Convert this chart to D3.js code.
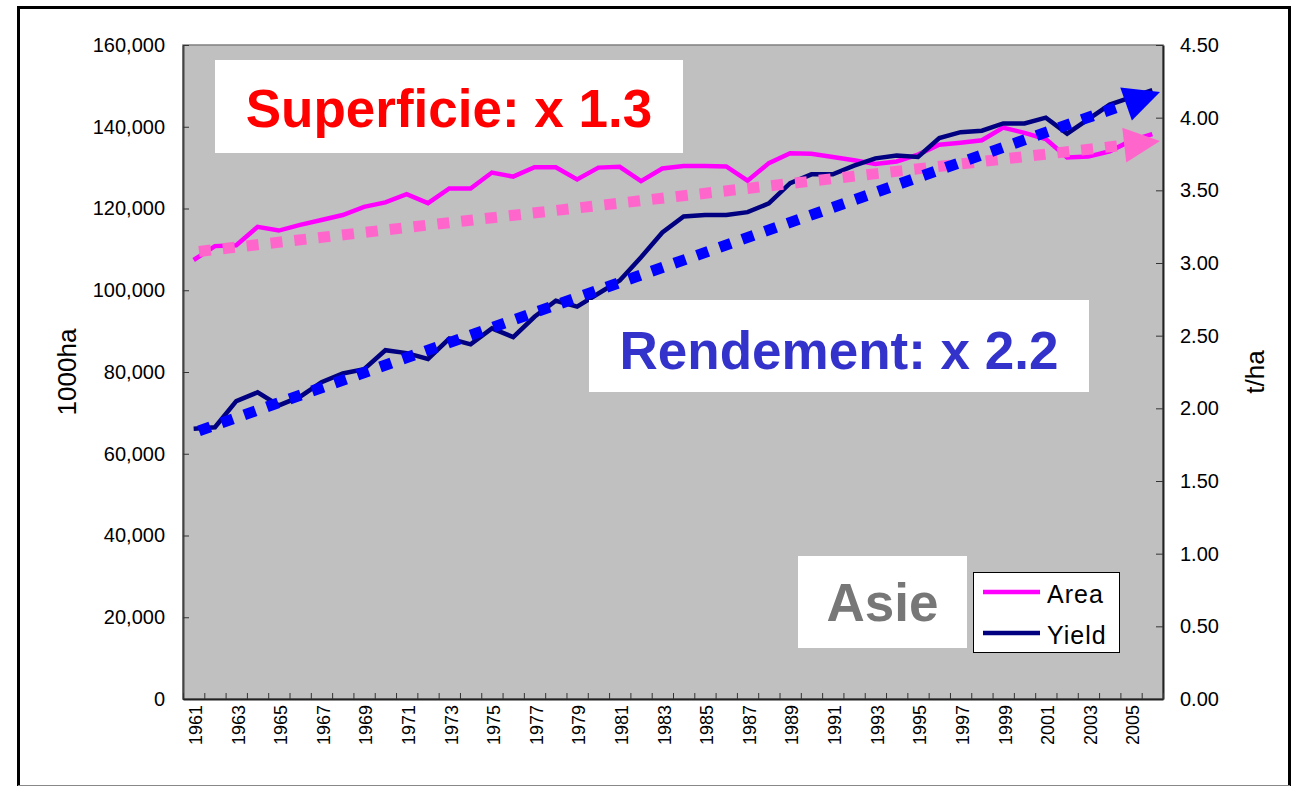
<!DOCTYPE html>
<html>
<head>
<meta charset="utf-8">
<script src="https://cdn.jsdelivr.net/npm/d3@7"></script>
<style>
    html, body { margin: 0; padding: 0; background: #fff; }
    svg { display: block; font-family: "Liberation Sans", Arial, sans-serif; }
</style>
</head>
<body>
<div id="chart"></div>
<script>
// Rice in Asia, 1961-2006: harvested area (1000 ha, left axis) and
// yield (t/ha, right axis), with hand-drawn dotted trend arrows.

const YEARS = [
    1961, 1962, 1963, 1964, 1965, 1966, 1967, 1968, 1969, 1970,
    1971, 1972, 1973, 1974, 1975, 1976, 1977, 1978, 1979, 1980,
    1981, 1982, 1983, 1984, 1985, 1986, 1987, 1988, 1989, 1990,
    1991, 1992, 1993, 1994, 1995, 1996, 1997, 1998, 1999, 2000,
    2001, 2002, 2003, 2004, 2005, 2006,
];

// 1000 ha
const AREA = [
    107400, 110800, 111000, 115500, 114600, 116000, 117200, 118400, 120400, 121500,
    123500, 121300, 124900, 124900, 128800, 127800, 130100, 130100, 127100, 130000,
    130200, 126700, 129800, 130400, 130400, 130300, 126800, 131100, 133500, 133400,
    132600, 131800, 130900, 131500, 133200, 135600, 136100, 136700, 139800, 138500,
    137000, 132500, 132700, 134000, 136600, 138200,
];

// t/ha
const YIELD = [
    1.86, 1.87, 2.05, 2.11, 2.02, 2.08, 2.18, 2.24, 2.27, 2.40,
    2.38, 2.34, 2.48, 2.44, 2.55, 2.49, 2.63, 2.74, 2.70, 2.79,
    2.88, 3.04, 3.21, 3.32, 3.33, 3.33, 3.35, 3.41, 3.55, 3.61,
    3.61, 3.67, 3.72, 3.74, 3.73, 3.86, 3.90, 3.91, 3.96, 3.96,
    4.00, 3.89, 3.99, 4.09, 4.14, 4.19,
];

// Trend arrows: start and tip, in (year, value) terms
const TREND_YEARS = [1961.25, 2006.36];
const TREND_AREA = [109500, 136500];
const TREND_YIELD = [1.845, 4.176];

const LEFT_TICKS = [0, 20000, 40000, 60000, 80000, 100000, 120000, 140000, 160000];
const RIGHT_TICKS = [0, 0.5, 1, 1.5, 2, 2.5, 3, 3.5, 4, 4.5];
const YEAR_LABELS = YEARS.filter((y) => y % 2 === 1);

const WIDTH = 1293;
const HEIGHT = 786;
const PLOT = { left: 183, top: 45, right: 1163, bottom: 699 };

const svg = d3.select("#chart")
    .append("svg")
    .attr("width", WIDTH)
    .attr("height", HEIGHT);

// Outer frame (bottom edge is cut by the picture)
svg.append("path")
    .attr("d", `M18.5,${HEIGHT} V7.5 H1289.5 V${HEIGHT}`)
    .attr("fill", "none")
    .attr("stroke", "#000")
    .attr("stroke-width", 3);
svg.append("line")
    .attr("x1", 18).attr("x2", 1290)
    .attr("y1", 785.5).attr("y2", 785.5)
    .attr("stroke", "#888")
    .attr("stroke-width", 1);

// Scales
const x = d3.scaleLinear()
    .domain([YEARS[0] - 0.5, YEARS[YEARS.length - 1] + 0.5])
    .range([PLOT.left, PLOT.right]);
const yL = d3.scaleLinear().domain([0, 160000]).range([PLOT.bottom, PLOT.top]);
const yR = d3.scaleLinear().domain([0, 4.5]).range([PLOT.bottom, PLOT.top]);

// Plot background
svg.append("rect")
    .attr("x", PLOT.left).attr("y", PLOT.top)
    .attr("width", PLOT.right - PLOT.left)
    .attr("height", PLOT.bottom - PLOT.top)
    .attr("fill", "#c0c0c0")
    .attr("stroke", "#808080")
    .attr("stroke-width", 1.5);

// Left axis — ticks point inwards
const axL = svg.append("g")
    .attr("transform", `translate(${PLOT.left},0)`)
    .call(d3.axisLeft(yL)
        .tickValues(LEFT_TICKS)
        .tickFormat(d3.format(","))
        .tickSizeInner(-6)
        .tickSizeOuter(0)
        .tickPadding(18));
axL.select(".domain").attr("stroke", "#444").attr("stroke-width", 2);
axL.selectAll(".tick line").attr("stroke", "#333");
axL.selectAll("text").attr("font-size", 20).attr("fill", "#000")
    .attr("font-family", "Liberation Sans, Arial, sans-serif");

// Right axis
const axR = svg.append("g")
    .attr("transform", `translate(${PLOT.right},0)`)
    .call(d3.axisRight(yR)
        .tickValues(RIGHT_TICKS)
        .tickFormat(d3.format(".2f"))
        .tickSizeInner(-7)
        .tickSizeOuter(0)
        .tickPadding(17));
axR.select(".domain").attr("stroke", "#222").attr("stroke-width", 2);
axR.selectAll(".tick line").attr("stroke", "#333");
axR.selectAll("text").attr("font-size", 20).attr("fill", "#000")
    .attr("font-family", "Liberation Sans, Arial, sans-serif");

// Bottom axis — category boundaries as ticks, labels every 2nd year
const boundaries = YEARS.map((yr) => yr - 0.5).concat([YEARS[YEARS.length - 1] + 0.5]);
const axB = svg.append("g")
    .attr("transform", `translate(0,${PLOT.bottom})`)
    .call(d3.axisBottom(x)
        .tickValues(boundaries)
        .tickFormat("")
        .tickSizeInner(-6)
        .tickSizeOuter(0));
axB.select(".domain").attr("stroke", "#222").attr("stroke-width", 2);
axB.selectAll(".tick line").attr("stroke", "#333");

svg.append("g")
    .selectAll("text")
    .data(YEAR_LABELS)
    .join("text")
    .attr("transform", (d) => `translate(${x(d) + 2},${PLOT.bottom + 6}) rotate(-90)`)
    .attr("dy", "0.35em")
    .attr("text-anchor", "end")
    .attr("font-size", 18)
    .attr("fill", "#000")
    .text((d) => d);

// Axis titles
svg.append("text")
    .attr("transform", "translate(67,372) rotate(-90)")
    .attr("dy", "0.35em")
    .attr("text-anchor", "middle")
    .attr("font-size", 26)
    .text("1000ha");
svg.append("text")
    .attr("transform", "translate(1255,372) rotate(-90)")
    .attr("dy", "0.35em")
    .attr("text-anchor", "middle")
    .attr("font-size", 26)
    .text("t/ha");

// Series lines
const areaLine = d3.line()
    .x((d, i) => x(YEARS[i]))
    .y((d) => yL(d));
const yieldLine = d3.line()
    .x((d, i) => x(YEARS[i]))
    .y((d) => yR(d));

svg.append("path")
    .datum(AREA)
    .attr("d", areaLine)
    .attr("fill", "none")
    .attr("stroke", "#ff00ff")
    .attr("stroke-width", 4.5)
    .attr("stroke-linejoin", "miter");

svg.append("path")
    .datum(YIELD)
    .attr("d", yieldLine)
    .attr("fill", "none")
    .attr("stroke", "#000080")
    .attr("stroke-width", 4.5)
    .attr("stroke-linejoin", "miter");

// Dotted trend arrows
function trendArrow(values, yScale, color) {
    const p0 = [x(TREND_YEARS[0]), yScale(values[0])];
    const p1 = [x(TREND_YEARS[1]), yScale(values[1])];
    const len = Math.hypot(p1[0] - p0[0], p1[1] - p0[1]);
    const u = [(p1[0] - p0[0]) / len, (p1[1] - p0[1]) / len];
    const n = [-u[1], u[0]];
    const headLen = 36;
    const headHalf = 17.5;
    const base = [p1[0] - u[0] * headLen, p1[1] - u[1] * headLen];

    svg.append("line")
        .attr("x1", p0[0]).attr("y1", p0[1])
        .attr("x2", base[0] + u[0] * 4).attr("y2", base[1] + u[1] * 4)
        .attr("stroke", color)
        .attr("stroke-width", 11)
        .attr("stroke-dasharray", "12 12")
        .attr("stroke-linecap", "butt");

    svg.append("polygon")
        .attr("points", [
            p1,
            [base[0] + n[0] * headHalf, base[1] + n[1] * headHalf],
            [base[0] - n[0] * headHalf, base[1] - n[1] * headHalf],
        ].map((p) => p.join(",")).join(" "))
        .attr("fill", color);
}

trendArrow(TREND_AREA, yL, "#ff66cc");
trendArrow(TREND_YIELD, yR, "#0000ff");

// Annotation boxes
function labelBox(bx, by, bw, bh, text, color, baseline) {
    svg.append("rect")
        .attr("x", bx).attr("y", by)
        .attr("width", bw).attr("height", bh)
        .attr("fill", "#fff");
    svg.append("text")
        .attr("x", bx + bw / 2)
        .attr("y", baseline)
        .attr("text-anchor", "middle")
        .attr("font-size", 53)
        .attr("font-weight", "bold")
        .attr("fill", color)
        .text(text);
}

labelBox(215, 60, 468, 93, "Superficie: x 1.3", "#ff0000", 127);
labelBox(589, 300, 500, 92, "Rendement: x 2.2", "#3333cc", 369);
labelBox(798, 556, 169, 92, "Asie", "#777777", 621);

// Legend
const legend = svg.append("g");
legend.append("rect")
    .attr("x", 973.5).attr("y", 572.5)
    .attr("width", 146).attr("height", 80)
    .attr("fill", "#fff")
    .attr("stroke", "#000")
    .attr("stroke-width", 1);

const LEGEND_ITEMS = [
    { label: "Area", color: "#ff00ff", y: 592 },
    { label: "Yield", color: "#000080", y: 633 },
];
for (const item of LEGEND_ITEMS) {
    legend.append("line")
        .attr("x1", 983).attr("x2", 1040)
        .attr("y1", item.y).attr("y2", item.y)
        .attr("stroke", item.color)
        .attr("stroke-width", 4.5);
    legend.append("text")
        .attr("x", 1047)
        .attr("y", item.y + 11)
        .attr("font-size", 25)
        .attr("letter-spacing", 1)
        .attr("fill", "#000")
        .text(item.label);
}
</script>
</body>
</html>
